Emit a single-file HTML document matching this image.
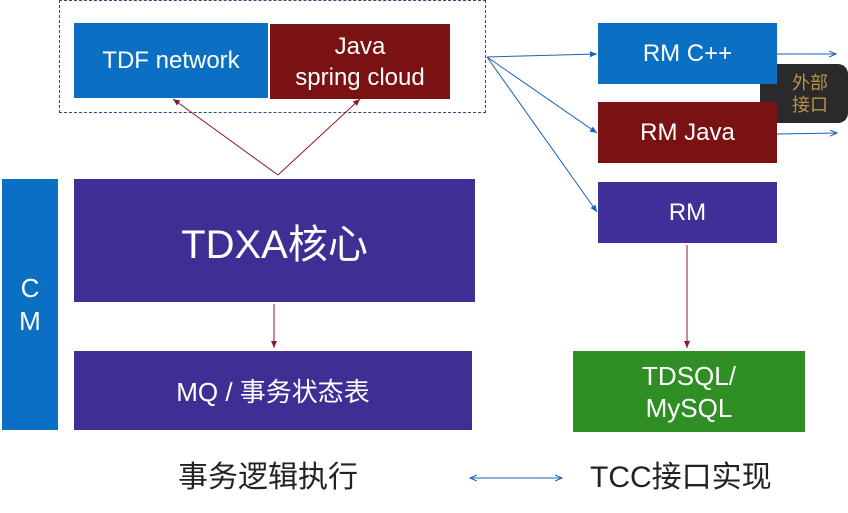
<!DOCTYPE html>
<html><head><meta charset="utf-8"><style>
body{margin:0;width:848px;height:513px;background:#fff;position:relative;overflow:hidden;font-family:"Liberation Sans","Noto Sans CJK SC",sans-serif}
.b{position:absolute;color:#fff;display:flex;align-items:center;justify-content:center;text-align:center;box-sizing:border-box}
</style></head><body>
<div style="position:absolute;left:59px;top:0;width:427px;height:113px;border:1px dashed #2a4a8a;box-sizing:border-box"></div>
<div class="b" style="left:74px;top:23px;width:194px;height:75px;background:#0b70c3;font-size:24px">TDF network</div>
<div class="b" style="left:270px;top:24px;width:180px;height:75px;background:#7a1214;font-size:24px;line-height:31px">Java<br>spring cloud</div>
<div class="b" style="left:2px;top:179px;width:56px;height:251px;background:#0b6fc4;font-size:26px;line-height:33px">C<br>M</div>
<div class="b" style="left:74px;top:179px;width:401px;height:123px;background:#3f2f95;font-size:40px">TDXA核心</div>
<div class="b" style="left:74px;top:351px;width:398px;height:79px;background:#3f2f95;font-size:26px">MQ / 事务状态表</div>
<div class="b" style="left:760px;top:64px;width:88px;height:59px;background:#2a2a2a;border-radius:10px;color:#b8924a;font-size:18px;line-height:22px;padding-left:12px">外部<br>接口</div>
<div class="b" style="left:598px;top:23px;width:179px;height:61px;background:#0b70c3;font-size:24px">RM C++</div>
<div class="b" style="left:598px;top:102px;width:179px;height:61px;background:#7a1214;font-size:24px">RM Java</div>
<div class="b" style="left:598px;top:182px;width:179px;height:61px;background:#40309a;font-size:24px">RM</div>
<div class="b" style="left:573px;top:351px;width:232px;height:81px;background:#2f8f24;font-size:26px;line-height:32px">TDSQL/<br>MySQL</div>
<div style="position:absolute;left:178px;top:452px;font-size:30px;color:#222">事务逻辑执行</div>
<div style="position:absolute;left:590px;top:452px;font-size:30px;color:#222">TCC接口实现</div>
<svg width="848" height="513" style="position:absolute;left:0;top:0">
<defs>
<marker id="r" markerWidth="8" markerHeight="8" refX="7" refY="4" orient="auto"><path d="M0,1 L7,4 L0,7z" fill="#8a1a2a"/></marker>
<marker id="bl" markerWidth="8" markerHeight="8" refX="7" refY="4" orient="auto-start-reverse"><path d="M0,1 L7,4 L0,7" fill="none" stroke="#1a5fb8"/></marker>
<marker id="bf" markerWidth="8" markerHeight="8" refX="7" refY="4" orient="auto"><path d="M0,1 L7,4 L0,7z" fill="#1a5fb8"/></marker>
</defs>
<g stroke="#8a1a2a" stroke-width="1" fill="none">
<line x1="278" y1="175" x2="173" y2="99" marker-end="url(#r)"/>
<line x1="278" y1="175" x2="360" y2="99" marker-end="url(#r)"/>
<line x1="274" y1="304" x2="274" y2="348" marker-end="url(#r)"/>
<line x1="687" y1="245" x2="687" y2="348" marker-end="url(#r)"/>
</g>
<g stroke="#1a5fb8" stroke-width="1" fill="none">
<line x1="487" y1="57" x2="597" y2="54" marker-end="url(#bf)"/>
<line x1="487" y1="57" x2="597" y2="133" marker-end="url(#bf)"/>
<line x1="487" y1="57" x2="597" y2="212" marker-end="url(#bf)"/>
<line x1="777" y1="54" x2="836" y2="54" marker-end="url(#bl)"/>
<line x1="777" y1="134" x2="837" y2="133" marker-end="url(#bl)"/>
<line x1="470" y1="478" x2="562" y2="478" marker-end="url(#bl)" marker-start="url(#bl)"/>
</g>
</svg>
</body></html>
